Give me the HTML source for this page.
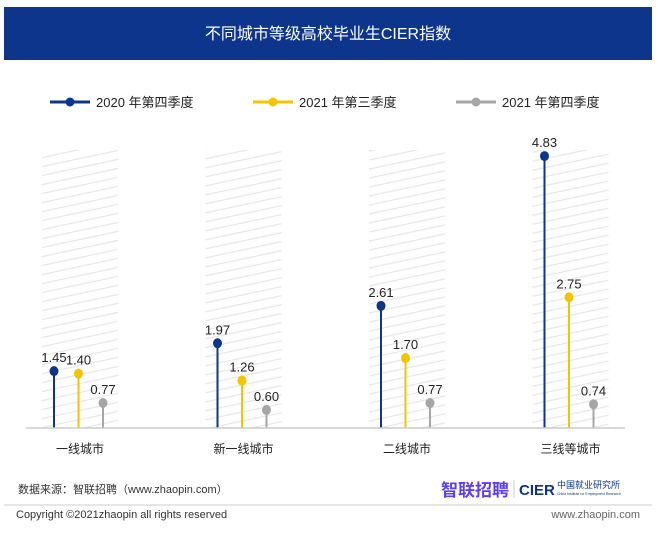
<!DOCTYPE html>
<html><head><meta charset="utf-8">
<style>
body{margin:0;width:658px;height:534px;background:#fff;overflow:hidden;font-family:"Liberation Sans","Noto Sans CJK SC",sans-serif;}
svg{display:block}
</style></head>
<body>
<svg width="658" height="534">
<defs>
<pattern id="hatch" width="20" height="9" patternUnits="userSpaceOnUse" patternTransform="skewY(-12)">
<line x1="0" y1="4.5" x2="20" y2="4.5" stroke="#e6e6e6" stroke-width="1.2"/>
</pattern>
</defs>
<rect x="4" y="7" width="648" height="53" fill="#0d358c"/>
<text x="328" y="39" text-anchor="middle" fill="#fff" font-size="16">不同城市等级高校毕业生CIER指数</text>
<g id="legend"></g>
<g id="plot"></g>
<text x="18" y="493" font-size="11" fill="#333">数据来源：智联招聘（www.zhaopin.com）</text>
<text x="441" y="496" font-size="17" fill="#5b3df5" font-weight="bold">智联招聘</text>
<line x1="514" y1="480" x2="514" y2="498" stroke="#ccc"/>
<text x="519" y="495" font-size="15" fill="#0d358c" font-weight="bold">CIER</text>
<text x="557" y="488" font-size="9" fill="#0d358c">中国就业研究所</text>
<text x="557" y="495" font-size="3.5" fill="#0d358c">China Institute for Employment Research</text>
<line x1="4" y1="505" x2="652" y2="505" stroke="#ccc"/>
<text x="16" y="518" font-size="11" fill="#333">Copyright ©2021zhaopin all rights reserved</text>
<text x="640" y="518" font-size="11" fill="#666" text-anchor="end">www.zhaopin.com</text>
</svg>
<script>
const categories=["一线城市","新一线城市","二线城市","三线等城市"];
const seriesNames=["2020 年第四季度","2021 年第三季度","2021 年第四季度"];
const s2020q4=[1.45,1.97,2.61,4.83];
const s2021q3=[1.40,1.26,1.70,2.75];
const s2021q4=[0.77,0.60,0.77,0.74];
const colors=["#0d358c","#f2c500","#a6a6a6"];
const series=[s2020q4,s2021q3,s2021q4];
const NS="http://www.w3.org/2000/svg";
function mk(t,a,p){const e=document.createElementNS(NS,t);for(const k in a)e.setAttribute(k,a[k]);p.appendChild(e);return e;}
const base=428;
function y(v){return base-35.1*Math.pow(v,1.3);}
function groupX(i){return 80+i*163.5;}
function x(i,s){return groupX(i)-26+s*24.5;}
const plot=document.getElementById('plot');
const leg=document.getElementById('legend');
seriesNames.forEach((n,s)=>{
  const lx=50+s*203;
  const g=mk('g',{},leg);
  
  
  mk('line',{x1:lx,y1:102,x2:lx+40,y2:102,stroke:colors[s],'stroke-width':3},g);
  mk('circle',{cx:lx+20,cy:102,r:4.5,fill:colors[s]},g);
  const t=mk('text',{x:lx+46,y:107,'font-size':13,fill:'#222'},g);t.textContent=n;
});
categories.forEach((c,i)=>{
  const r=mk('rect',{x:groupX(i)-38,y:150,width:76,height:base-150,fill:'url(#hatch)'},plot);
  
  
  const t=mk('text',{x:groupX(i),y:453,'text-anchor':'middle','font-size':12,fill:'#222'},plot);
  
  
  t.textContent=c;
});
series.forEach((arr,s)=>{
  arr.forEach((v,i)=>{
    const g=mk('g',{},plot);
    
    
    const xx=x(i,s),yy=y(v);
    mk('line',{x1:xx,y1:base,x2:xx,y2:yy,stroke:colors[s],'stroke-width':2},g);
    mk('ellipse',{cx:xx,cy:yy,rx:4.5,ry:5,fill:colors[s]},g);
    const t=mk('text',{x:xx,y:yy-9,'text-anchor':'middle','font-size':13,fill:'#222'},g);
    t.textContent=v.toFixed(2);
  });
});
const ax=mk('line',{x1:26,y1:base,x2:625,y2:base,stroke:'#ccc','stroke-width':1.5},plot);


</script>
</body></html>
